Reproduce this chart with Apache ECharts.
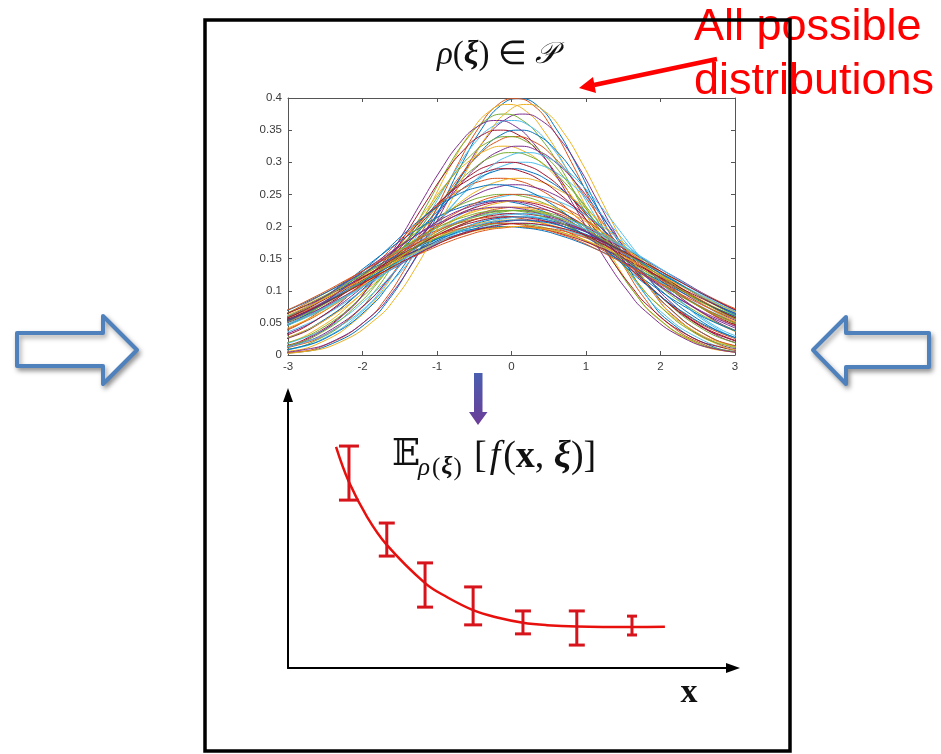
<!DOCTYPE html>
<html lang="en">
<head>
    <meta charset="utf-8" />
    <title>distributions</title>
    <script src="https://cdn.jsdelivr.net/npm/echarts@6/dist/echarts.min.js"></script>
    <style>
        html, body { margin: 0; padding: 0; background: #fff; }
        #main { width: 941px; height: 754px; }
    </style>
</head>
<body>
<div id="main"></div>
<script>
// top panel: density curves sampled on a common grid of xi
var xiGrid = [-3.5, -3, -2.5, -2, -1.75, -1.5, -1.25, -1, -0.75, -0.5, -0.25, 0, 0.25, 0.5, 0.75, 1, 1.25, 1.5, 1.75, 2, 2.5, 3, 3.5];
var densityProfiles = [
    [0.001, 0.004, 0.018, 0.054, 0.086, 0.130, 0.182, 0.242, 0.301, 0.352, 0.388, 0.399, 0.388, 0.352, 0.301, 0.242, 0.182, 0.130, 0.086, 0.054, 0.018, 0.004, 0.001],
    [0.001, 0.005, 0.020, 0.058, 0.090, 0.133, 0.185, 0.242, 0.298, 0.346, 0.379, 0.390, 0.379, 0.346, 0.298, 0.242, 0.185, 0.133, 0.090, 0.058, 0.020, 0.005, 0.001],
    [0.002, 0.007, 0.024, 0.064, 0.097, 0.139, 0.188, 0.241, 0.293, 0.336, 0.365, 0.375, 0.365, 0.336, 0.293, 0.241, 0.188, 0.139, 0.097, 0.064, 0.024, 0.007, 0.002],
    [0.002, 0.008, 0.027, 0.068, 0.101, 0.142, 0.190, 0.240, 0.288, 0.329, 0.356, 0.365, 0.356, 0.329, 0.288, 0.240, 0.190, 0.142, 0.101, 0.068, 0.027, 0.008, 0.002],
    [0.003, 0.011, 0.032, 0.075, 0.108, 0.147, 0.192, 0.238, 0.282, 0.318, 0.342, 0.350, 0.342, 0.318, 0.282, 0.238, 0.192, 0.147, 0.108, 0.075, 0.032, 0.011, 0.003],
    [0.004, 0.013, 0.035, 0.080, 0.112, 0.150, 0.193, 0.236, 0.277, 0.310, 0.332, 0.340, 0.332, 0.310, 0.277, 0.236, 0.193, 0.150, 0.112, 0.080, 0.035, 0.013, 0.004],
    [0.006, 0.016, 0.041, 0.086, 0.118, 0.154, 0.194, 0.233, 0.270, 0.299, 0.318, 0.325, 0.318, 0.299, 0.270, 0.233, 0.194, 0.154, 0.118, 0.086, 0.041, 0.016, 0.006],
    [0.007, 0.019, 0.045, 0.091, 0.121, 0.156, 0.194, 0.231, 0.264, 0.291, 0.309, 0.315, 0.309, 0.291, 0.264, 0.231, 0.194, 0.156, 0.121, 0.091, 0.045, 0.019, 0.007],
    [0.009, 0.024, 0.051, 0.097, 0.126, 0.159, 0.193, 0.226, 0.256, 0.280, 0.295, 0.300, 0.295, 0.280, 0.256, 0.226, 0.193, 0.159, 0.126, 0.097, 0.051, 0.024, 0.009],
    [0.011, 0.027, 0.056, 0.101, 0.129, 0.160, 0.192, 0.223, 0.250, 0.271, 0.285, 0.290, 0.285, 0.271, 0.250, 0.223, 0.192, 0.160, 0.129, 0.101, 0.056, 0.027, 0.011],
    [0.015, 0.032, 0.062, 0.106, 0.133, 0.161, 0.190, 0.217, 0.241, 0.259, 0.271, 0.275, 0.271, 0.259, 0.241, 0.217, 0.190, 0.161, 0.133, 0.106, 0.062, 0.032, 0.015],
    [0.018, 0.036, 0.067, 0.110, 0.135, 0.161, 0.188, 0.213, 0.234, 0.251, 0.261, 0.265, 0.261, 0.251, 0.234, 0.213, 0.188, 0.161, 0.135, 0.110, 0.067, 0.036, 0.018],
    [0.023, 0.043, 0.073, 0.114, 0.137, 0.161, 0.184, 0.206, 0.224, 0.238, 0.247, 0.250, 0.247, 0.238, 0.224, 0.206, 0.184, 0.161, 0.137, 0.114, 0.073, 0.043, 0.023],
    [0.026, 0.047, 0.077, 0.116, 0.138, 0.160, 0.181, 0.200, 0.217, 0.229, 0.237, 0.240, 0.237, 0.229, 0.217, 0.200, 0.181, 0.160, 0.138, 0.116, 0.077, 0.047, 0.026],
    [0.030, 0.052, 0.081, 0.118, 0.138, 0.158, 0.177, 0.195, 0.209, 0.221, 0.228, 0.230, 0.228, 0.221, 0.209, 0.195, 0.177, 0.158, 0.138, 0.118, 0.081, 0.052, 0.030],
    [0.032, 0.054, 0.083, 0.119, 0.138, 0.157, 0.175, 0.192, 0.206, 0.216, 0.223, 0.225, 0.223, 0.216, 0.206, 0.192, 0.175, 0.157, 0.138, 0.119, 0.083, 0.054, 0.032],
    [0.034, 0.056, 0.085, 0.120, 0.138, 0.156, 0.173, 0.189, 0.202, 0.212, 0.218, 0.220, 0.218, 0.212, 0.202, 0.189, 0.173, 0.156, 0.138, 0.120, 0.085, 0.056, 0.034],
    [0.036, 0.058, 0.087, 0.120, 0.138, 0.155, 0.171, 0.186, 0.198, 0.207, 0.213, 0.215, 0.213, 0.207, 0.198, 0.186, 0.171, 0.155, 0.138, 0.120, 0.087, 0.058, 0.036],
    [0.038, 0.060, 0.088, 0.121, 0.137, 0.154, 0.169, 0.183, 0.194, 0.203, 0.208, 0.210, 0.208, 0.203, 0.194, 0.183, 0.169, 0.154, 0.137, 0.121, 0.088, 0.060, 0.038],
    [0.041, 0.063, 0.090, 0.121, 0.137, 0.152, 0.167, 0.180, 0.190, 0.198, 0.203, 0.205, 0.203, 0.198, 0.190, 0.180, 0.167, 0.152, 0.137, 0.121, 0.090, 0.063, 0.041],
    [0.043, 0.065, 0.091, 0.121, 0.136, 0.151, 0.164, 0.176, 0.186, 0.194, 0.198, 0.200, 0.198, 0.194, 0.186, 0.176, 0.164, 0.151, 0.136, 0.121, 0.091, 0.065, 0.043]
];
// which profile each drawn curve uses, and where its peak sits
var curveProfile = [0, 0, 1, 2, 2, 3, 4, 4, 5, 6, 6, 7, 8, 8, 9, 10, 10, 11, 12, 12, 13, 13, 14, 14, 15, 15, 16, 16, 17, 17, 18, 18, 19, 19, 20, 20, 20,
    1, 3, 5, 7, 9, 11, 12, 13, 14, 15, 16, 17, 18, 19, 20, 13, 15, 17, 19];
var curveShift = [0.1, 0.05, -0.05, 0.15, -0.1, 0, -0.15, 0.1, 0.05, -0.1, 0.1, 0, 0.15, -0.05, 0, -0.15, 0.1, 0.05, -0.1, 0.15, 0, -0.2, 0.1, -0.05, 0, 0.15, -0.1, 0.05, 0.1, -0.15, 0, 0.2, -0.05, 0.1, 0, -0.1, 0.15,
    0.2, -0.2, -0.05, 0.2, -0.1, -0.2, 0.05, 0.1, -0.15, -0.1, 0.2, 0, 0.1, -0.15, 0.05, -0.1, 0.05, 0.2, 0.15];

// bottom panel: expected value curve and its error bars
var meanX = [1.08, 1.37, 1.78, 2.22, 3.08, 3.57, 4.16, 4.70, 5.28, 5.82, 6.49, 7.73, 8.47];
var meanY = [8.10, 6.81, 5.53, 4.51, 3.11, 2.60, 2.12, 1.85, 1.66, 1.57, 1.52, 1.50, 1.51];
var errX = [1.37, 2.22, 3.08, 4.16, 5.28, 6.49, 7.73];
var errLow = [6.15, 4.10, 2.23, 1.58, 1.25, 0.84, 1.21];
var errHigh = [8.13, 5.31, 3.85, 2.97, 2.09, 2.09, 1.90];
var capHalf = [10, 8, 8, 9, 8, 8, 5];

var matlabColors = ['#0072BD', '#D95319', '#EDB120', '#7E2F8E', '#77AC30', '#4DBEEE', '#A2142F'];

var chart = echarts.init(document.getElementById('main'), null, { renderer: 'canvas' });

var series = [];
for (var c = 0; c < curveProfile.length; c++) {
    var prof = densityProfiles[curveProfile[c]];
    var pts = [];
    for (var k = 0; k < xiGrid.length; k++) {
        pts.push([xiGrid[k] + curveShift[c], prof[k]]);
    }
    series.push({
        type: 'line',
        xAxisIndex: 0,
        yAxisIndex: 0,
        data: pts,
        smooth: 0.5,
        showSymbol: false,
        silent: true,
        clip: true,
        lineStyle: { width: 1, color: matlabColors[c % matlabColors.length] }
    });
}

var meanData = meanX.map(function (x, i) { return [x, meanY[i]]; });
series.push({
    type: 'line',
    xAxisIndex: 2,
    yAxisIndex: 2,
    data: meanData,
    smooth: 0.4,
    showSymbol: false,
    silent: true,
    z: 3,
    lineStyle: { width: 2.5, color: '#e8100c' }
});

var errData = errX.map(function (x, i) { return [x, errLow[i], errHigh[i]]; });
series.push({
    type: 'custom',
    xAxisIndex: 2,
    yAxisIndex: 2,
    data: errData,
    z: 4,
    silent: true,
    renderItem: function (params, api) {
        var lo = api.coord([api.value(0), api.value(1)]);
        var hi = api.coord([api.value(0), api.value(2)]);
        var hw = capHalf[params.dataIndex];
        var st = { stroke: '#d7141b', lineWidth: 3 };
        return {
            type: 'group',
            children: [
                { type: 'line', shape: { x1: lo[0], y1: lo[1], x2: hi[0], y2: hi[1] }, style: st },
                { type: 'line', shape: { x1: lo[0] - hw, y1: lo[1], x2: lo[0] + hw, y2: lo[1] }, style: st },
                { type: 'line', shape: { x1: hi[0] - hw, y1: hi[1], x2: hi[0] + hw, y2: hi[1] }, style: st }
            ]
        };
    }
});

var boxAxisLine = { onZero: false, lineStyle: { color: '#555', width: 1 } };
var boxTick = { inside: true, length: 4, lineStyle: { color: '#555' } };
var tickFont = { fontFamily: 'Liberation Sans', fontSize: 11.5, color: '#3a3a3a' };

var option = {
    animation: false,
    backgroundColor: '#fff',
    grid: [
        { left: 288, top: 98, width: 447, height: 257, containLabel: false },
        { left: 288, top: 395, width: 445, height: 273, containLabel: false }
    ],
    xAxis: [
        {
            gridIndex: 0, type: 'value', position: 'bottom', min: -3, max: 3, interval: 1,
            axisLine: boxAxisLine, axisTick: boxTick, splitLine: { show: false },
            axisLabel: Object.assign({ margin: 6 }, tickFont)
        },
        {
            gridIndex: 0, type: 'value', position: 'top', min: -3, max: 3, interval: 1,
            axisLine: boxAxisLine, axisTick: boxTick, splitLine: { show: false },
            axisLabel: { show: false }
        },
        {
            gridIndex: 1, type: 'value', min: 0, max: 10,
            axisLine: { onZero: false, symbol: ['none', 'triangle'], symbolSize: [10, 14], lineStyle: { color: '#000', width: 2 } },
            axisTick: { show: false }, axisLabel: { show: false }, splitLine: { show: false }
        }
    ],
    yAxis: [
        {
            gridIndex: 0, type: 'value', position: 'left', min: 0, max: 0.4, interval: 0.05,
            axisLine: boxAxisLine, axisTick: boxTick, splitLine: { show: false },
            axisLabel: Object.assign({ margin: 6 }, tickFont)
        },
        {
            gridIndex: 0, type: 'value', position: 'right', min: 0, max: 0.4, interval: 0.05,
            axisLine: boxAxisLine, axisTick: boxTick, splitLine: { show: false },
            axisLabel: { show: false }
        },
        {
            gridIndex: 1, type: 'value', min: 0, max: 10,
            axisLine: { onZero: false, symbol: ['none', 'triangle'], symbolSize: [10, 14], lineStyle: { color: '#000', width: 2 } },
            axisTick: { show: false }, axisLabel: { show: false }, splitLine: { show: false }
        }
    ],
    graphic: [
        // red annotation
        {
            type: 'text', x: 694, y: 55, z: 10,
            style: {
                text: 'All possible\ndistributions', fill: '#ff0000',
                font: '45px "Liberation Sans"', lineHeight: 54,
                textAlign: 'left', textVerticalAlign: 'middle'
            }
        },
        {
            type: 'line', z: 11,
            shape: { x1: 717, y1: 59, x2: 594, y2: 85 },
            style: { stroke: '#ff0000', lineWidth: 4.5 }
        },
        {
            type: 'polygon', z: 11,
            shape: { points: [[579, 88], [596, 93], [593, 77]] },
            style: { fill: '#ff0000' }
        },
        // frame
        {
            type: 'rect', z: 12,
            shape: { x: 205, y: 20, width: 585, height: 731 },
            style: { fill: 'none', stroke: '#000', lineWidth: 3.5 }
        },
        // rho(xi) in P
        {
            type: 'text', x: 497, y: 55, z: 10,
            style: {
                text: '{i|ρ}{n|(}{b|ξ}{n|) ∈ }{s|𝒫}',
                textAlign: 'center', textVerticalAlign: 'middle', fill: '#111',
                rich: {
                    i: { fontFamily: 'Liberation Serif', fontStyle: 'italic', fontSize: 33 },
                    n: { fontFamily: 'Liberation Serif', fontSize: 33 },
                    b: { fontFamily: 'Liberation Serif', fontStyle: 'italic', fontWeight: 'bold', fontSize: 33 },
                    s: { fontFamily: 'DejaVu Serif', fontStyle: 'italic', fontSize: 30 }
                }
            }
        },
        // down arrow between the panels
        {
            type: 'polygon', z: 10,
            shape: { points: [[474, 373], [482.5, 373], [482.5, 412], [487.5, 412], [478, 425], [469, 412], [474, 412]] },
            style: {
                fill: {
                    type: 'linear', x: 0, y: 0, x2: 0, y2: 1,
                    colorStops: [{ offset: 0, color: '#4a5eb0' }, { offset: 1, color: '#6c3d98' }]
                }
            }
        },
        // E_rho(xi)[f(x, xi)]
        {
            type: 'text', x: 392, y: 455, z: 10,
            style: { text: '𝔼', font: '37px "DejaVu Serif"', fill: '#111', textAlign: 'left', textVerticalAlign: 'middle' }
        },
        {
            type: 'text', x: 418, y: 468, z: 10,
            style: {
                text: '{i|ρ}{n|(}{b|ξ}{n|)}', fill: '#111', textAlign: 'left', textVerticalAlign: 'middle',
                rich: {
                    i: { fontFamily: 'Liberation Serif', fontStyle: 'italic', fontSize: 25, padding: [0, 1, 0, 0] },
                    n: { fontFamily: 'Liberation Serif', fontSize: 25, padding: [0, 1, 0, 1] },
                    b: { fontFamily: 'Liberation Serif', fontStyle: 'italic', fontWeight: 'bold', fontSize: 25 }
                }
            }
        },
        {
            type: 'text', x: 474, y: 457, z: 10,
            style: {
                text: '{n|[}{i|f}{n|(}{x|x}{n|, }{b|ξ}{n|)]}', fill: '#111', textAlign: 'left', textVerticalAlign: 'middle',
                rich: {
                    i: { fontFamily: 'Liberation Serif', fontStyle: 'italic', fontSize: 38, padding: [0, 3, 0, 3] },
                    n: { fontFamily: 'Liberation Serif', fontSize: 38 },
                    x: { fontFamily: 'Liberation Serif', fontWeight: 'bold', fontSize: 38 },
                    b: { fontFamily: 'Liberation Serif', fontStyle: 'italic', fontWeight: 'bold', fontSize: 38 }
                }
            }
        },
        // axis label of bottom panel
        {
            type: 'text', x: 689, y: 693, z: 10,
            style: { text: 'x', font: 'bold 34px "Liberation Serif"', fill: '#111', textAlign: 'center', textVerticalAlign: 'middle' }
        },
        // hollow side arrows
        {
            type: 'polygon', z: 10,
            shape: { points: [[17, 333], [103, 333], [103, 316], [137, 350], [103, 384], [103, 366], [17, 366]] },
            style: {
                fill: '#fff', stroke: '#4f81bd', lineWidth: 4, lineJoin: 'round',
                shadowBlur: 5, shadowColor: 'rgba(0,0,0,0.35)', shadowOffsetX: 2, shadowOffsetY: 3
            }
        },
        {
            type: 'polygon', z: 10,
            shape: { points: [[813, 350], [846, 317], [846, 333], [929, 333], [929, 367], [846, 367], [846, 384]] },
            style: {
                fill: '#fff', stroke: '#4f81bd', lineWidth: 4, lineJoin: 'round',
                shadowBlur: 5, shadowColor: 'rgba(0,0,0,0.35)', shadowOffsetX: 2, shadowOffsetY: 3
            }
        }
    ],
    series: series
};

chart.setOption(option);
</script>
</body>
</html>
